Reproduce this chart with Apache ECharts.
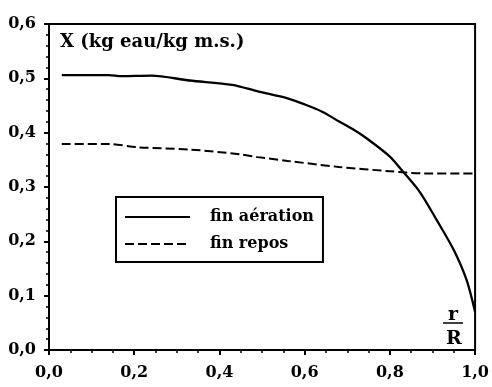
<!DOCTYPE html>
<html>
<head>
<meta charset="utf-8">
<script src="https://cdn.jsdelivr.net/npm/echarts@6/dist/echarts.min.js"></script>
<style>
  html, body { margin: 0; padding: 0; background: #fff; }
  #chart { width: 492px; height: 387px; }
</style>
</head>
<body>
<div id="chart"></div>
<script>
// Moisture content X across the normalised radius r/R
const aerationR = [0.03, 0.14, 0.17, 0.24, 0.33, 0.43, 0.49, 0.56, 0.60, 0.64, 0.68, 0.72, 0.75, 0.80, 0.83, 0.87, 0.91, 0.95, 0.98, 1.00];
const aerationX = [0.506, 0.506, 0.504, 0.505, 0.496, 0.488, 0.476, 0.463, 0.452, 0.439, 0.421, 0.403, 0.387, 0.356, 0.329, 0.291, 0.239, 0.184, 0.129, 0.070];
const reposR = [0.03, 0.14, 0.21, 0.33, 0.45, 0.49, 0.56, 0.68, 0.80, 0.88, 1.00];
const reposX = [0.379, 0.379, 0.373, 0.369, 0.360, 0.355, 0.348, 0.337, 0.329, 0.325, 0.325];
const seriesNames = ['fin aération', 'fin repos'];
const yTitle = 'X (kg eau/kg m.s.)';

const FONT = 'DejaVu Serif';
const pair = (xs, ys) => xs.map((x, i) => [x, ys[i]]);
const comma = v => v.toFixed(1).replace('.', ',');

const chart = echarts.init(document.getElementById('chart'), null, { renderer: 'canvas' });
chart.setOption({
  animation: false,
  backgroundColor: '#fff',
  grid: { left: 49, right: 16, top: 24, bottom: 37, show: true, borderColor: '#000', borderWidth: 2, backgroundColor: 'transparent' },
  xAxis: {
    type: 'value', min: 0, max: 1, interval: 0.2,
    axisLine: { show: true, lineStyle: { color: '#000', width: 2 } },
    axisTick: { show: true, length: 5, lineStyle: { color: '#000', width: 2 } },
    minorTick: { show: true, splitNumber: 4, length: 3, lineStyle: { color: '#000', width: 1.5 } },
    splitLine: { show: false },
    axisLabel: { formatter: comma, color: '#000', fontFamily: FONT, fontWeight: 'bold', fontSize: 16, margin: 15 }
  },
  yAxis: {
    type: 'value', min: 0, max: 0.6, interval: 0.1,
    axisLine: { show: true, lineStyle: { color: '#000', width: 2 } },
    axisTick: { show: true, length: 5, lineStyle: { color: '#000', width: 2 } },
    minorTick: { show: true, splitNumber: 5, length: 3, lineStyle: { color: '#000', width: 1.5 } },
    splitLine: { show: false },
    axisLabel: { formatter: comma, color: '#000', fontFamily: FONT, fontWeight: 'bold', fontSize: 16, margin: 13 }
  },
  legend: {
    left: 116, top: 197, orient: 'vertical',
    data: seriesNames,
    itemWidth: 65, itemHeight: 14, itemGap: 11,
    padding: [12, 9, 10, 8],
    borderColor: '#000', borderWidth: 2, backgroundColor: '#fff',
    itemStyle: { opacity: 0 },
    textStyle: { color: '#000', fontFamily: FONT, fontWeight: 'bold', fontSize: 16, padding: [0, 0, 0, 15] }
  },
  graphic: [
    { type: 'text', left: 60, top: 33, style: { text: yTitle, fill: '#000', font: 'bold 18px "' + FONT + '"' } },
    { type: 'text', x: 453, y: 325, style: { text: 'r', fill: '#000', font: 'bold 19px "' + FONT + '"', textAlign: 'center', textVerticalAlign: 'bottom' } },
    { type: 'line', shape: { x1: 443, y1: 323, x2: 463, y2: 323 }, style: { stroke: '#000', lineWidth: 1.5 } },
    { type: 'text', x: 454, y: 349, style: { text: 'R', fill: '#000', font: 'bold 19px "' + FONT + '"', textAlign: 'center', textVerticalAlign: 'bottom' } }
  ],
  series: [
    {
      name: seriesNames[0], type: 'line', data: pair(aerationR, aerationX),
      showSymbol: false, symbol: 'none', smooth: 0.3, clip: false,
      lineStyle: { color: '#000', width: 2.3, type: 'solid' }, itemStyle: { color: '#000' }
    },
    {
      name: seriesNames[1], type: 'line', data: pair(reposR, reposX),
      showSymbol: false, symbol: 'none', smooth: 0.3, clip: false,
      lineStyle: { color: '#000', width: 2, type: [9, 4] }, itemStyle: { color: '#000' }
    }
  ]
});
</script>
</body>
</html>
